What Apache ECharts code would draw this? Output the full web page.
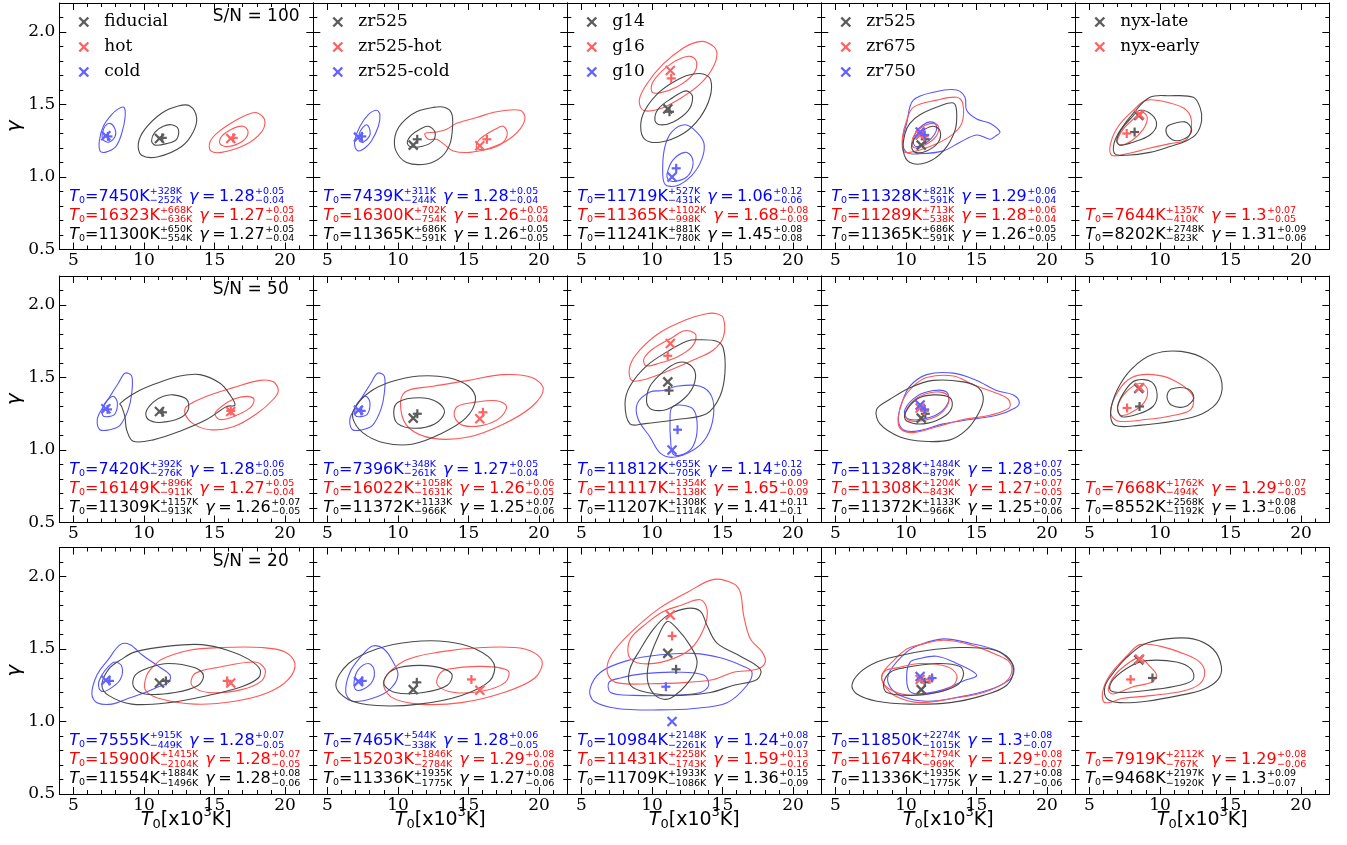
<!DOCTYPE html>
<html>
<head>
<meta charset="utf-8">
<script src="https://cdn.jsdelivr.net/npm/echarts@6/dist/echarts.min.js"></script>
<style>
html, body { margin: 0; padding: 0; background: #ffffff; }
#chart { width: 1347px; height: 845px; }
</style>
</head>
<body>
<div id="chart"></div>
<script>
// ---------------- axis ticks ----------------
const xMajorTicks = [5, 10, 15, 20];
const xMinorTicks = [4, 5, 6, 7, 8, 9, 10, 11, 12, 13, 14, 15, 16, 17, 18, 19, 20, 21, 22];
const yMajorTicks = [0.5, 1.0, 1.5, 2.0];
const yMinorTicks = [0.5, 0.6, 0.7, 0.8, 0.9, 1.0, 1.1, 1.2, 1.3, 1.4, 1.5, 1.6, 1.7, 1.8, 1.9, 2.0, 2.1, 2.2];

// ---------------- panel labels ----------------
const snLabels = ['S/N = 100', 'S/N = 50', 'S/N = 20'];
const modelNames = [
  ['fiducial', 'hot', 'cold'],
  ['zr525', 'zr525-hot', 'zr525-cold'],
  ['g14', 'g16', 'g10'],
  ['zr525', 'zr675', 'zr750'],
  ['nyx-late', 'nyx-early']
];

// true (T0 [10^3 K], gamma) of each model, drawn as x
const trueT0 = [[11.1, 16.15, 7.3], [11.08, 15.8, 7.2], [11.12, 11.3, 11.42], [11.08, 11.0, 11.0], [8.5, 8.55]];
const trueGamma = [[1.265, 1.265, 1.285], [1.22, 1.215, 1.275], [1.47, 1.735, 1.0], [1.22, 1.29, 1.31], [1.425, 1.43]];

// ---------------- recovered values: [T0, +dT0, -dT0, gamma, +dg, -dg] ----------------
// model order inside each panel: first (black), second (red), third (blue)
const fits100 = [
  [[11300, 650, 554, 1.27, 0.05, 0.04], [16323, 668, 636, 1.27, 0.05, 0.04], [7450, 328, 252, 1.28, 0.05, 0.04]],
  [[11365, 686, 591, 1.26, 0.05, 0.05], [16300, 702, 754, 1.26, 0.05, 0.04], [7439, 311, 244, 1.28, 0.05, 0.04]],
  [[11241, 881, 780, 1.45, 0.08, 0.08], [11365, 1102, 998, 1.68, 0.08, 0.09], [11719, 527, 431, 1.06, 0.12, 0.06]],
  [[11365, 686, 591, 1.26, 0.05, 0.05], [11289, 713, 538, 1.28, 0.06, 0.04], [11328, 821, 591, 1.29, 0.06, 0.04]],
  [[8202, 2748, 823, 1.31, 0.09, 0.06], [7644, 1357, 410, 1.3, 0.07, 0.05]]
];
const fits50 = [
  [[11309, 1157, 913, 1.26, 0.07, 0.05], [16149, 896, 911, 1.27, 0.05, 0.04], [7420, 392, 276, 1.28, 0.06, 0.05]],
  [[11372, 1133, 966, 1.25, 0.07, 0.06], [16022, 1058, 1631, 1.26, 0.06, 0.05], [7396, 348, 261, 1.27, 0.05, 0.04]],
  [[11207, 1308, 1114, 1.41, 0.11, 0.1], [11117, 1354, 1138, 1.65, 0.09, 0.09], [11812, 655, 705, 1.14, 0.12, 0.09]],
  [[11372, 1133, 966, 1.25, 0.07, 0.06], [11308, 1204, 843, 1.27, 0.07, 0.05], [11328, 1484, 879, 1.28, 0.07, 0.05]],
  [[8552, 2568, 1192, 1.3, 0.08, 0.06], [7668, 1762, 494, 1.29, 0.07, 0.05]]
];
const fits20 = [
  [[11554, 1884, 1496, 1.28, 0.08, 0.06], [15900, 1415, 2104, 1.28, 0.07, 0.05], [7555, 915, 449, 1.28, 0.07, 0.05]],
  [[11336, 1935, 1775, 1.27, 0.08, 0.06], [15203, 1846, 2784, 1.29, 0.08, 0.06], [7465, 544, 338, 1.28, 0.06, 0.05]],
  [[11709, 1933, 1086, 1.36, 0.15, 0.09], [11431, 2258, 1743, 1.59, 0.13, 0.16], [10984, 2148, 2261, 1.24, 0.08, 0.07]],
  [[11336, 1935, 1775, 1.27, 0.08, 0.06], [11674, 1794, 969, 1.29, 0.08, 0.07], [11850, 2274, 1015, 1.3, 0.08, 0.07]],
  [[9468, 2197, 1920, 1.3, 0.09, 0.07], [7919, 2112, 767, 1.29, 0.08, 0.06]]
];

// ---------------- credible-region contours (T0 [10^3 K], gamma) ----------------
// each panel: [model][loop] -> closed list of points (outer region first, then inner)
const con100_thermal = [
  [[[13.25,1.49],[13.73,1.41],[13.49,1.31],[12.67,1.21],[11.01,1.14],[9.83,1.15],[9.6,1.23],[10.07,1.33],[11.25,1.44],[12.43,1.49]],
   [[11.96,1.36],[12.43,1.33],[12.31,1.26],[11.6,1.23],[10.78,1.22],[10.54,1.25],[10.78,1.31],[11.37,1.35]]],
  [[[18.09,1.44],[18.56,1.39],[18.33,1.31],[17.15,1.22],[15.5,1.17],[14.74,1.18],[14.67,1.24],[15.26,1.31],[16.67,1.4],[17.6,1.44]],
   [[17.03,1.35],[17.38,1.31],[17.03,1.25],[15.97,1.21],[15.38,1.23],[15.5,1.28],[16.2,1.33]]],
  [[[8.59,1.48],[8.66,1.41],[8.42,1.3],[8.0,1.21],[7.24,1.17],[6.89,1.18],[6.84,1.25],[7.12,1.35],[7.71,1.43],[8.18,1.47]],
   [[7.6,1.37],[7.95,1.33],[7.95,1.28],[7.48,1.24],[7.08,1.26],[7.05,1.3],[7.24,1.35]]]
];
const con100_zr525 = [
  [[[13.33,1.48],[13.8,1.44],[13.87,1.35],[13.69,1.23],[13.1,1.14],[12.03,1.09],[10.61,1.1],[9.86,1.18],[9.79,1.28],[10.26,1.37],[11.32,1.45],[12.5,1.48]],
   [[12.15,1.35],[12.62,1.31],[12.5,1.25],[11.68,1.21],[10.85,1.21],[10.66,1.24],[10.97,1.29],[11.56,1.33]]],
  [[[11.91,1.3],[12.74,1.31],[13.45,1.33],[14.16,1.37],[15.58,1.41],[16.99,1.45],[18.65,1.46],[19.0,1.41],[18.65,1.33],[17.7,1.25],[16.52,1.2],[15.1,1.17],[13.92,1.18],[13.21,1.23],[12.74,1.26],[12.15,1.26]],
   [[17.47,1.35],[17.75,1.3],[17.35,1.23],[16.28,1.19],[15.58,1.2],[15.69,1.25],[16.52,1.31],[17.11,1.34]]],
  [[[8.49,1.46],[8.72,1.43],[8.61,1.35],[8.13,1.25],[7.66,1.2],[7.19,1.18],[6.95,1.21],[6.95,1.26],[7.31,1.35],[7.9,1.43]],
   [[7.78,1.36],[8.02,1.32],[7.97,1.28],[7.54,1.24],[7.26,1.25],[7.26,1.3],[7.5,1.34]]]
];
const con100_gamma = [
  [[[13.64,1.71],[14.16,1.67],[14.11,1.55],[13.4,1.41],[12.22,1.3],[10.57,1.24],[9.5,1.26],[9.2,1.35],[9.5,1.46],[10.57,1.59],[11.98,1.68],[12.93,1.71]],
   [[12.58,1.59],[12.88,1.55],[12.58,1.46],[11.51,1.38],[10.57,1.36],[10.21,1.39],[10.45,1.47],[11.51,1.55],[12.22,1.59]]],
  [[[13.87,1.93],[14.58,1.87],[14.35,1.76],[13.4,1.64],[11.98,1.54],[10.57,1.47],[9.39,1.46],[9.1,1.53],[9.62,1.64],[10.8,1.78],[12.22,1.89],[13.17,1.93]],
   [[12.81,1.83],[13.17,1.79],[12.93,1.71],[11.75,1.62],[10.57,1.58],[9.98,1.59],[10.1,1.66],[11.04,1.76],[12.1,1.82]]],
  [[[12.34,1.36],[13.17,1.31],[13.69,1.23],[13.52,1.12],[12.81,1.01],[11.75,0.94],[10.92,0.95],[10.76,1.07],[10.92,1.21],[11.39,1.31]],
   [[12.34,1.17],[12.81,1.14],[12.88,1.07],[12.46,1.0],[11.63,0.97],[11.16,0.98],[11.09,1.03],[11.51,1.12]]]
];
const con100_zreion = [
  [[[10.99,1.43],[12.41,1.49],[13.36,1.51],[13.59,1.45],[13.47,1.32],[12.65,1.18],[11.47,1.1],[10.28,1.1],[9.81,1.18],[9.93,1.3],[10.28,1.37]],
   [[11.94,1.35],[12.41,1.32],[12.29,1.24],[11.47,1.18],[10.64,1.17],[10.4,1.21],[10.71,1.28],[11.35,1.33]]],
  [[[10.52,1.48],[12.17,1.53],[13.59,1.55],[14.02,1.51],[13.95,1.37],[13.12,1.28],[11.7,1.21],[10.28,1.17],[9.81,1.18],[9.76,1.28],[10.05,1.39]],
   [[11.82,1.37],[12.29,1.35],[12.13,1.28],[11.35,1.22],[10.64,1.2],[10.4,1.23],[10.64,1.3],[11.23,1.35]]],
  [[[10.52,1.53],[12.17,1.59],[13.59,1.6],[14.18,1.55],[14.3,1.46],[15.01,1.4],[15.95,1.37],[16.66,1.31],[16.31,1.28],[15.95,1.26],[15.01,1.29],[13.83,1.24],[12.65,1.18],[10.99,1.16],[10.05,1.17],[9.76,1.25],[10.05,1.37]],
   [[11.7,1.38],[12.13,1.36],[12.06,1.3],[11.35,1.23],[10.71,1.21],[10.52,1.24],[10.71,1.31],[11.23,1.36]]]
];
const con100_nyx = [
  [[[9.29,1.55],[10.71,1.56],[12.36,1.55],[12.84,1.48],[12.95,1.39],[12.6,1.3],[11.89,1.25],[10.71,1.21],[9.29,1.17],[7.64,1.15],[6.81,1.16],[6.74,1.23],[7.17,1.32],[8.11,1.44]],
   [[8.58,1.46],[9.41,1.43],[9.76,1.36],[9.29,1.29],[8.11,1.24],[7.17,1.22],[6.93,1.25],[7.28,1.33],[7.99,1.41]],
   [[10.71,1.36],[11.77,1.38],[12.24,1.33],[12.01,1.28],[11.18,1.25],[10.59,1.28],[10.43,1.33]]],
  [[[9.06,1.53],[10.71,1.51],[11.89,1.46],[12.24,1.37],[11.89,1.26],[10.71,1.23],[9.29,1.2],[7.64,1.16],[6.58,1.15],[6.5,1.23],[7.05,1.35],[8.11,1.46]],
   [[8.7,1.45],[9.1,1.41],[8.82,1.33],[7.99,1.25],[7.17,1.22],[6.98,1.25],[7.4,1.33],[8.23,1.41]]]
];

const con50_thermal = [
  [[[8.3,1.32],[9.48,1.4],[10.9,1.46],[12.55,1.51],[13.97,1.52],[15.39,1.46],[16.1,1.38],[16.45,1.31],[15.86,1.3],[14.44,1.21],[12.55,1.13],[10.66,1.07],[9.24,1.06],[8.77,1.14],[8.65,1.23],[8.42,1.3]],
   [[12.08,1.38],[13.02,1.35],[13.14,1.28],[12.55,1.22],[11.13,1.19],[10.31,1.21],[10.14,1.26],[10.66,1.33],[11.37,1.37]]],
  [[[13.02,1.3],[14.44,1.37],[16.33,1.43],[18.22,1.48],[19.17,1.47],[19.52,1.41],[19.17,1.35],[17.99,1.25],[16.33,1.16],[14.68,1.14],[13.5,1.18],[12.91,1.25]],
   [[17.28,1.37],[17.8,1.35],[17.51,1.29],[16.33,1.23],[15.39,1.21],[15.03,1.25],[15.5,1.3],[16.33,1.35]]],
  [[[8.65,1.53],[9.13,1.51],[9.13,1.39],[8.89,1.28],[8.3,1.17],[7.59,1.14],[6.88,1.14],[6.69,1.21],[7.0,1.28],[7.59,1.37],[8.18,1.46]],
   [[7.83,1.37],[8.11,1.33],[7.95,1.25],[7.47,1.23],[7.07,1.24],[7.12,1.3],[7.47,1.35]]]
];
const con50_zr525 = [
  [[[7.0,1.3],[8.0,1.4],[9.5,1.47],[11.5,1.51],[13.5,1.5],[15.0,1.44],[15.5,1.35],[14.8,1.22],[13.0,1.11],[11.0,1.04],[9.0,1.05],[7.5,1.12],[6.8,1.22]],
   [[10.0,1.33],[11.5,1.36],[12.8,1.33],[13.3,1.26],[12.6,1.18],[11.2,1.15],[10.0,1.18],[9.7,1.26]]],
  [[[10.5,1.4],[12.5,1.44],[15.0,1.48],[17.5,1.52],[19.5,1.5],[20.3,1.42],[19.5,1.3],[17.5,1.18],[15.0,1.09],[12.5,1.08],[10.8,1.15],[10.2,1.28]],
   [[14.2,1.3],[15.5,1.33],[17.0,1.34],[17.7,1.3],[17.2,1.22],[16.0,1.17],[14.6,1.17],[14.0,1.23]]],
  [[[8.55,1.53],[9.03,1.51],[9.03,1.39],[8.79,1.28],[8.2,1.17],[7.49,1.14],[6.78,1.14],[6.59,1.21],[6.9,1.28],[7.49,1.37],[8.08,1.46]],
   [[7.73,1.37],[8.01,1.33],[7.85,1.25],[7.37,1.23],[6.97,1.24],[7.02,1.3],[7.37,1.35]]]
];
const con50_gamma = [
  [[[13.17,1.76],[14.58,1.75],[15.06,1.7],[15.17,1.53],[14.82,1.37],[13.87,1.25],[11.75,1.21],[9.39,1.18],[8.44,1.18],[8.09,1.32],[8.44,1.44],[9.62,1.58],[11.28,1.69],[12.46,1.75]],
   [[12.46,1.6],[13.05,1.54],[12.93,1.44],[12.22,1.35],[11.04,1.28],[9.98,1.28],[9.62,1.33],[9.86,1.44],[10.8,1.54],[11.75,1.6]]],
  [[[14.58,1.94],[15.06,1.91],[15.06,1.78],[14.35,1.69],[12.93,1.62],[11.28,1.55],[9.62,1.49],[8.56,1.48],[8.44,1.58],[9.15,1.69],[10.57,1.81],[12.46,1.9],[13.87,1.94]],
   [[12.69,1.82],[13.12,1.79],[12.81,1.71],[11.75,1.64],[10.57,1.6],[9.58,1.58],[9.43,1.63],[10.1,1.7],[11.51,1.78],[12.22,1.82]]],
  [[[11.75,1.44],[13.4,1.44],[14.23,1.37],[14.35,1.23],[13.87,1.09],[12.93,1.0],[11.51,0.95],[10.57,0.98],[9.86,1.09],[9.03,1.21],[8.96,1.32],[9.86,1.4],[10.8,1.41]],
   [[11.98,1.31],[12.93,1.28],[13.21,1.16],[12.93,1.03],[12.22,0.97],[11.51,0.97],[11.32,1.07],[11.28,1.21],[11.39,1.29]]]
];
const con50_zreion = [
  [[[11.94,1.48],[14.06,1.47],[15.13,1.43],[15.48,1.35],[15.13,1.25],[14.3,1.14],[13.12,1.07],[11.23,1.06],[9.58,1.09],[8.16,1.18],[7.92,1.28],[8.87,1.35],[10.28,1.43]],
   [[11.94,1.38],[13.12,1.36],[13.24,1.29],[12.53,1.22],[11.23,1.18],[10.05,1.2],[9.93,1.25],[10.76,1.35]]],
  [[[11.47,1.5],[13.36,1.51],[14.77,1.45],[16.19,1.4],[17.25,1.35],[17.32,1.29],[15.95,1.24],[14.06,1.21],[12.17,1.16],[10.52,1.12],[9.58,1.15],[9.46,1.23],[9.81,1.35],[10.52,1.44]],
   [[12.06,1.4],[12.93,1.38],[13.0,1.32],[12.29,1.24],[10.99,1.2],[10.1,1.21],[10.0,1.27],[10.8,1.36]]],
  [[[11.47,1.52],[13.36,1.53],[15.01,1.48],[16.43,1.41],[17.61,1.38],[18.03,1.33],[17.73,1.29],[16.43,1.24],[14.54,1.21],[12.65,1.18],[10.76,1.13],[9.81,1.14],[9.46,1.21],[9.69,1.32],[10.28,1.44]],
   [[11.94,1.41],[12.88,1.4],[13.0,1.33],[12.29,1.25],[10.99,1.21],[10.05,1.22],[9.93,1.28],[10.76,1.37]]]
];
const con50_nyx = [
  [[[8.0,1.56],[9.5,1.66],[11.5,1.68],[13.3,1.62],[14.3,1.5],[14.2,1.35],[13.0,1.25],[11.0,1.2],[8.5,1.17],[6.8,1.17],[6.5,1.26],[7.0,1.42]],
   [[8.3,1.48],[9.4,1.47],[9.8,1.38],[9.5,1.3],[8.5,1.25],[7.3,1.23],[7.0,1.3],[7.6,1.42]],
   [[10.8,1.42],[12.0,1.42],[12.4,1.36],[11.8,1.3],[10.8,1.31],[10.5,1.37]]],
  [[[8.0,1.5],[9.5,1.52],[11.0,1.48],[12.3,1.38],[12.2,1.28],[11.0,1.24],[9.0,1.21],[7.0,1.2],[6.5,1.26],[7.0,1.4]],
   [[8.6,1.46],[9.1,1.42],[8.9,1.33],[8.0,1.26],[7.2,1.24],[7.0,1.3],[7.6,1.4]]]
];

const con20_thermal = [
  [[[9.38,1.48],[11.74,1.52],[14.09,1.53],[15.98,1.49],[17.4,1.43],[18.22,1.36],[18.1,1.3],[16.92,1.24],[14.57,1.18],[11.74,1.13],[9.14,1.12],[7.49,1.18],[7.02,1.25],[7.49,1.36],[8.43,1.43]],
   [[11.74,1.4],[13.62,1.37],[14.21,1.32],[13.86,1.25],[12.21,1.2],[10.08,1.19],[9.26,1.24],[9.38,1.32],[10.32,1.37]]],
  [[[11.26,1.43],[13.15,1.49],[15.51,1.51],[18.34,1.51],[19.99,1.48],[20.7,1.4],[20.23,1.29],[18.81,1.2],[16.45,1.14],[13.62,1.12],[11.03,1.16],[10.08,1.22],[10.2,1.32],[10.67,1.38]],
   [[15.04,1.37],[17.87,1.41],[18.58,1.36],[18.34,1.28],[16.92,1.22],[14.57,1.2],[13.39,1.25],[13.5,1.32],[14.09,1.35]]],
  [[[8.32,1.53],[9.02,1.53],[9.85,1.46],[11.03,1.38],[11.85,1.32],[11.74,1.27],[11.03,1.24],[10.08,1.2],[8.91,1.16],[7.73,1.12],[6.67,1.13],[6.31,1.19],[6.67,1.32],[7.49,1.43]],
   [[7.96,1.41],[8.43,1.38],[8.32,1.29],[7.49,1.22],[6.97,1.21],[6.78,1.26],[7.02,1.32],[7.49,1.38]]]
];
const con20_zr525 = [
  [[[8.5,1.5],[11.0,1.55],[13.5,1.55],[15.5,1.5],[16.8,1.4],[16.5,1.28],[14.5,1.18],[11.5,1.12],[8.5,1.11],[6.5,1.15],[5.6,1.25],[6.5,1.4]],
   [[10.5,1.38],[12.5,1.38],[13.8,1.33],[13.5,1.25],[11.8,1.2],[9.8,1.2],[9.0,1.26],[9.4,1.34]]],
  [[[10.5,1.42],[13.0,1.48],[16.0,1.51],[19.0,1.5],[20.2,1.42],[19.7,1.3],[17.5,1.2],[14.5,1.13],[11.5,1.12],[9.5,1.17],[9.0,1.28]],
   [[13.5,1.36],[16.0,1.38],[17.8,1.35],[17.6,1.27],[16.0,1.21],[14.0,1.2],[12.8,1.25],[12.9,1.32]]],
  [[[8.2,1.52],[9.0,1.5],[9.6,1.42],[10.0,1.32],[9.4,1.22],[8.2,1.16],[6.8,1.14],[6.3,1.2],[6.6,1.34],[7.4,1.45]],
   [[7.9,1.4],[8.3,1.36],[8.2,1.28],[7.5,1.22],[7.0,1.22],[6.9,1.28],[7.2,1.36]]]
];
const con20_gamma = [
  [[[11.08,1.73],[12.49,1.78],[13.43,1.76],[13.91,1.66],[14.61,1.54],[16.26,1.45],[17.68,1.36],[17.44,1.29],[15.79,1.25],[14.14,1.2],[12.02,1.18],[9.66,1.2],[8.48,1.25],[8.43,1.36],[9.19,1.5],[10.13,1.64]],
   [[11.08,1.69],[11.78,1.64],[12.73,1.52],[13.2,1.41],[12.73,1.29],[11.31,1.16],[10.37,1.17],[9.71,1.27],[9.78,1.41],[10.37,1.57]]],
  [[[12.49,1.89],[14.38,1.98],[15.79,1.95],[16.26,1.89],[16.5,1.73],[16.97,1.57],[17.8,1.48],[18.03,1.41],[17.44,1.36],[15.79,1.34],[14.38,1.29],[12.49,1.27],[9.9,1.26],[7.42,1.27],[6.83,1.34],[7.07,1.45],[8.25,1.59],[10.37,1.77]],
   [[12.02,1.8],[13.43,1.84],[13.91,1.77],[13.67,1.64],[12.73,1.5],[11.08,1.42],[9.19,1.4],[8.36,1.45],[8.48,1.57],[9.66,1.68],[10.84,1.76]]],
  [[[8.25,1.42],[10.6,1.46],[12.96,1.47],[14.85,1.44],[16.5,1.38],[17.09,1.34],[16.74,1.25],[15.32,1.13],[12.96,1.09],[10.6,1.08],[7.54,1.09],[5.89,1.14],[5.6,1.22],[6.36,1.34]],
   [[9.42,1.33],[11.78,1.34],[13.67,1.32],[14.02,1.25],[13.43,1.2],[11.31,1.18],[8.72,1.18],[7.07,1.2],[6.95,1.27],[7.77,1.3]]]
];
const con20_zreion = [
  [[[9.35,1.45],[11.48,1.49],[13.83,1.51],[15.96,1.5],[17.14,1.45],[17.61,1.36],[17.14,1.25],[15.49,1.18],[13.13,1.13],[10.3,1.12],[7.94,1.14],[6.52,1.19],[6.17,1.25],[6.76,1.34],[7.94,1.41]],
   [[9.83,1.37],[12.18,1.4],[13.83,1.38],[14.07,1.32],[13.6,1.25],[12.18,1.2],[10.3,1.18],[8.65,1.2],[8.41,1.26],[8.88,1.34]]],
  [[[11.0,1.53],[12.66,1.56],[14.54,1.53],[16.43,1.46],[17.33,1.41],[17.49,1.34],[17.02,1.27],[15.49,1.2],[13.36,1.16],[11.0,1.13],[9.35,1.17],[8.53,1.24],[8.29,1.32],[9.12,1.42],[10.06,1.5]],
   [[9.35,1.37],[11.0,1.4],[12.89,1.38],[13.6,1.32],[13.36,1.25],[12.18,1.2],[10.3,1.18],[8.88,1.22],[8.29,1.29],[8.53,1.35]]],
  [[[11.0,1.53],[12.66,1.57],[14.54,1.54],[16.43,1.49],[17.37,1.42],[17.66,1.36],[17.37,1.29],[15.96,1.22],[13.83,1.17],[11.48,1.14],[9.59,1.18],[8.76,1.26],[8.88,1.35],[10.06,1.48]],
   [[10.77,1.43],[12.18,1.45],[13.6,1.4],[15.01,1.32],[14.07,1.28],[12.66,1.22],[10.77,1.19],[10.18,1.22],[10.06,1.34],[10.3,1.41]]]
];
const con20_nyx = [
  [[[8.81,1.53],[10.46,1.57],[12.35,1.57],[13.76,1.5],[14.35,1.38],[14.12,1.29],[13.06,1.22],[11.41,1.18],[9.05,1.14],[7.16,1.13],[6.22,1.16],[6.1,1.24],[6.57,1.32],[7.63,1.44]],
   [[9.05,1.42],[11.17,1.41],[12.23,1.36],[12.35,1.29],[11.41,1.25],[9.52,1.22],[7.16,1.2],[6.45,1.22],[6.69,1.29],[7.87,1.38]]],
  [[[8.58,1.53],[9.99,1.52],[11.88,1.46],[12.82,1.41],[13.17,1.34],[12.82,1.26],[11.64,1.21],[9.52,1.18],[7.4,1.16],[6.1,1.13],[5.93,1.2],[6.45,1.32],[7.63,1.45]],
   [[8.58,1.44],[9.28,1.38],[9.75,1.32],[9.4,1.27],[8.1,1.24],[6.69,1.19],[6.33,1.22],[6.81,1.32],[7.87,1.41]]]
];

// ---------------- layout & style ----------------
const PANEL_LEFT = 59.3, PANEL_W = 254, PANEL_H = 246.5;
const ROW_TOPS = [3, 276, 547.5];
const X_RANGE = [4, 22], Y_RANGE = [0.5, 2.2];
const LINE_COLORS = ['#4a4a4a', '#ff5656', '#5656ff'];
const MARK_COLORS = ['#5c5c5c', '#ff6262', '#6262ff'];
const TEXT_COLORS = ['#000000', '#ff0000', '#0000ff'];
const SANS = 'DejaVu Sans', SERIF = 'DejaVu Serif';

const contourRows = [
  [con100_thermal, con100_zr525, con100_gamma, con100_zreion, con100_nyx],
  [con50_thermal, con50_zr525, con50_gamma, con50_zreion, con50_nyx],
  [con20_thermal, con20_zr525, con20_gamma, con20_zreion, con20_nyx]
];
const fitRows = [fits100, fits50, fits20];

const measureCtx = document.createElement('canvas').getContext('2d');
function textWidth(str, size, italic) {
  measureCtx.font = (italic ? 'italic ' : '') + size + 'px "' + SANS + '"';
  return measureCtx.measureText(str).width;
}

const option = {
  animation: false,
  backgroundColor: '#ffffff',
  grid: [], xAxis: [], yAxis: [], series: [],
  graphic: { elements: [] }
};
const G = option.graphic.elements;

function addText(text, x, y, opts) {
  G.push({
    type: 'text', x: x, y: y, silent: true, z: 50,
    rotation: opts.rotation || 0,
    style: {
      text: text, fill: opts.color || '#000',
      fontSize: opts.size, fontFamily: opts.family || SANS,
      fontStyle: opts.italic ? 'italic' : 'normal',
      align: opts.align || 'left', verticalAlign: 'middle'
    }
  });
}

function addCross(cx, cy, half, color, width) {
  [[-half, -half, half, half], [-half, half, half, -half]].forEach(function (q) {
    G.push({ type: 'line', silent: true, z: 50,
      shape: { x1: cx + q[0], y1: cy + q[1], x2: cx + q[2], y2: cy + q[3] },
      style: { stroke: color, lineWidth: width } });
  });
}

// one summary line: T0 with asymmetric errors, then gamma with asymmetric errors
const MAIN_FS = 16, SMALL_FS = 9.5;
function addFitLine(x0, yc, color, fit) {
  const t0 = fit[0], tUp = fit[1], tDn = fit[2], g = fit[3], gUp = fit[4], gDn = fit[5];
  let x = x0;
  const o = function (size, italic) { return { size: size, italic: italic, color: color }; };
  addText('T', x, yc, o(MAIN_FS, true)); x += textWidth('T', MAIN_FS, true);
  addText('0', x, yc + 4, o(SMALL_FS)); x += textWidth('0', SMALL_FS);
  const s1 = '=' + t0 + 'K';
  addText(s1, x, yc, o(MAIN_FS)); x += textWidth(s1, MAIN_FS);
  const u1 = '+' + tUp + 'K', d1 = '\u2212' + tDn + 'K';
  addText(u1, x, yc - 5, o(SMALL_FS)); addText(d1, x, yc + 4.5, o(SMALL_FS));
  x += Math.max(textWidth(u1, SMALL_FS), textWidth(d1, SMALL_FS)) + 7;
  addText('\u03b3', x, yc, o(MAIN_FS, true)); x += textWidth('\u03b3', MAIN_FS, true) + 3.5;
  addText('=', x, yc, o(MAIN_FS)); x += textWidth('=', MAIN_FS) + 3.5;
  const s2 = String(g);
  addText(s2, x, yc, o(MAIN_FS)); x += textWidth(s2, MAIN_FS) + 0.5;
  addText('+' + gUp, x, yc - 5, o(SMALL_FS));
  addText('\u2212' + gDn, x, yc + 4.5, o(SMALL_FS));
}

function axisSet(g, col) {
  const lineOn = { show: true, onZero: false, lineStyle: { color: '#000', width: 1 } };
  const off = { show: false };
  const tick = function (vals, len) {
    return { show: true, inside: true, length: len, customValues: vals, lineStyle: { color: '#000', width: 1 } };
  };
  const base = { gridIndex: g, type: 'value', splitLine: off, minorTick: off, minorSplitLine: off };
  const xb = Object.assign({}, base, { min: X_RANGE[0], max: X_RANGE[1] });
  const yb = Object.assign({}, base, { min: Y_RANGE[0], max: Y_RANGE[1] });
  option.xAxis.push(
    Object.assign({}, xb, { position: 'bottom', axisLine: lineOn, axisTick: tick(xMajorTicks, 7),
      axisLabel: { show: true, customValues: xMajorTicks, margin: 3, color: '#000', fontFamily: SERIF, fontSize: 17 } }),
    Object.assign({}, xb, { position: 'bottom', axisLine: off, axisTick: tick(xMinorTicks, 4), axisLabel: off }),
    Object.assign({}, xb, { position: 'top', axisLine: lineOn, axisTick: tick(xMajorTicks, 7), axisLabel: off }),
    Object.assign({}, xb, { position: 'top', axisLine: off, axisTick: tick(xMinorTicks, 4), axisLabel: off })
  );
  option.yAxis.push(
    Object.assign({}, yb, { position: 'left', axisLine: lineOn, axisTick: tick(yMajorTicks, 7),
      axisLabel: col === 0 ? { show: true, customValues: yMajorTicks, margin: 4, color: '#000', fontFamily: SERIF, fontSize: 17,
        formatter: function (v) { return v.toFixed(1); } } : off }),
    Object.assign({}, yb, { position: 'left', axisLine: off, axisTick: tick(yMinorTicks, 4), axisLabel: off }),
    Object.assign({}, yb, { position: 'right', axisLine: lineOn, axisTick: tick(yMajorTicks, 7), axisLabel: off }),
    Object.assign({}, yb, { position: 'right', axisLine: off, axisTick: tick(yMinorTicks, 4), axisLabel: off })
  );
}

for (let r = 0; r < 3; r++) {
  for (let c = 0; c < 5; c++) {
    const g = r * 5 + c;
    const left = PANEL_LEFT + c * PANEL_W, top = ROW_TOPS[r];
    option.grid.push({ left: left, top: top, width: PANEL_W, height: PANEL_H });
    axisSet(g, c);

    const set = contourRows[r][c];
    const fits = fitRows[r][c];

    // contour loops, drawn from the third model down to the first
    const loops = [];
    for (let m = set.length - 1; m >= 0; m--) {
      for (let l = 0; l < set[m].length; l++) loops.push([m, l]);
    }
    option.series.push({
      type: 'custom', xAxisIndex: g * 4, yAxisIndex: g * 4, z: 2, silent: true,
      data: loops,
      renderItem: (function (set) {
        return function (params, api) {
          const m = api.value(0), l = api.value(1);
          const pts = set[m][l].map(function (p) { return api.coord(p); });
          return { type: 'polygon', shape: { points: pts, smooth: 0.35 },
            style: { fill: 'none', stroke: LINE_COLORS[m], lineWidth: 1.1 } };
        };
      })(set)
    });

    // markers: x = true model value, + = recovered value
    const marks = [];
    for (let m = 0; m < fits.length; m++) {
      marks.push([trueT0[c][m], trueGamma[c][m], 0, m]);
      marks.push([fits[m][0] / 1000, fits[m][3], 1, m]);
    }
    option.series.push({
      type: 'custom', xAxisIndex: g * 4, yAxisIndex: g * 4, z: 3, silent: true,
      data: marks,
      renderItem: function (params, api) {
        const p = api.coord([api.value(0), api.value(1)]);
        const kind = api.value(2), m = api.value(3);
        const s = 4.5;
        const segs = kind === 0 ? [[-s, -s, s, s], [-s, s, s, -s]] : [[-s, 0, s, 0], [0, -s, 0, s]];
        return { type: 'group', children: segs.map(function (q) {
          return { type: 'line', shape: { x1: p[0] + q[0], y1: p[1] + q[1], x2: p[0] + q[2], y2: p[1] + q[3] },
            style: { stroke: MARK_COLORS[m], lineWidth: 2.2 } };
        }) };
      }
    });

    // fit summary lines: third model on top, first model at the bottom
    const lineY = [193.5, 212.5, 231.5];
    for (let m = fits.length - 1; m >= 0; m--) {
      const slot = 2 - m;
      addFitLine(left + 10, top + lineY[slot], TEXT_COLORS[m], fits[m]);
    }

    // legend on the top row
    if (r === 0) {
      modelNames[c].forEach(function (name, m) {
        const yc = top + 19 + m * 25;
        addCross(left + 24.5, yc, 4.5, MARK_COLORS[m], 2.4);
        addText(name, left + 45, yc, { size: 17, family: SERIF });
      });
    }
    // signal-to-noise label and y title on the first column
    if (c === 0) {
      addText(snLabels[r], left + 153.5, top + 14, { size: 17 });
      addText('\u03b3', 15, top + PANEL_H / 2, { size: 20, italic: true, align: 'center', rotation: Math.PI / 2 });
    }
    // x-axis title on the bottom row
    if (r === 2) {
      const fs = 19, sub = 13;
      const parts = [['T', fs, true, 0], ['0', sub, false, 5], ['[x10', fs, false, 0], ['3', sub, false, -7], ['K]', fs, false, 0]];
      let total = 0;
      parts.forEach(function (p) { total += textWidth(p[0], p[1], p[2]); });
      let x = left + PANEL_W / 2 - total / 2;
      parts.forEach(function (p) {
        addText(p[0], x, 820 + p[3], { size: p[1], italic: p[2] });
        x += textWidth(p[0], p[1], p[2]);
      });
    }
  }
}

const chart = echarts.init(document.getElementById('chart'), null, { renderer: 'canvas' });
chart.setOption(option);
</script>
</body>
</html>
